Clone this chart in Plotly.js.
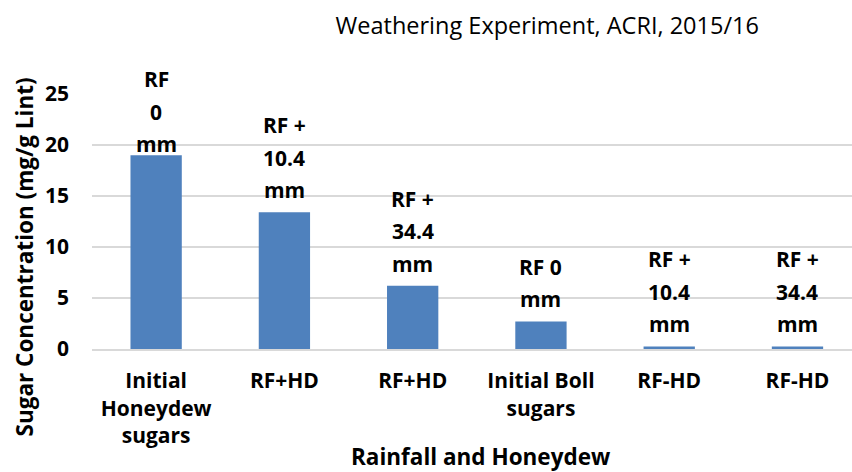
<!DOCTYPE html>
<html>
<head>
<meta charset="utf-8">
<script src="https://cdn.plot.ly/plotly-3.0.1.min.js"></script>
<style>html,body{margin:0;padding:0;background:#fff;}#chart{width:852px;height:472px;}</style>
</head>
<body>
<div id="chart"></div>
<script>
const categories = ["Initial<br>Honeydew<br>sugars", "RF+HD", "RF+HD", "Initial Boll<br>sugars", "RF-HD", "RF-HD"];
const sugarValues = [19.0, 13.4, 6.2, 2.7, 0.25, 0.25];
const labelLines = [["RF", "0", "mm"], ["RF +", "10.4", "mm"], ["RF +", "34.4", "mm"], ["RF 0", "mm"], ["RF +", "10.4", "mm"], ["RF +", "34.4", "mm"]];
const yTickVals = [0, 5, 10, 15, 20, 25];
const chartTitle = "Weathering Experiment, ACRI, 2015/16";
const xTitle = "Rainfall and Honeydew";
const yTitle = "Sugar Concentration (mg/g Lint)";

const FONT = "Open Sans, Lato, sans-serif";
const labelSize = 21;
const titleSize = 22.5;
const lineStep = 32.5;
const labelGap = 6;
const W = 852, H = 472;
const margin = {l: 92, r: 0, t: 94, b: 123, pad: 0};
const yRange = [0, 25];
const labelTopLimit = 95; // keep data-label stacks inside the chart area

const xIdx = categories.map((_, i) => i);
const plotH = H - margin.t - margin.b;
const valueToPx = v => margin.t + (yRange[1] - v) / (yRange[1] - yRange[0]) * plotH;

const annotations = [];
labelLines.forEach((lines, i) => {
  const n = lines.length;
  const topShift = labelGap + (n - 1) * lineStep;
  const overflow = Math.max(0, labelTopLimit - (valueToPx(sugarValues[i]) - topShift));
  lines.forEach((t, k) => {
    annotations.push({
      x: xIdx[i], y: sugarValues[i], xref: 'x', yref: 'y',
      text: '<b>' + t + '</b>', showarrow: false,
      xanchor: 'center', yanchor: 'bottom',
      yshift: labelGap + (n - 1 - k) * lineStep - overflow,
      font: {family: FONT, size: labelSize, color: '#000'}
    });
  });
});
annotations.push({
  xref: 'paper', yref: 'paper', x: -0.0888, y: 0.361,
  text: '<b>' + yTitle + '</b>', textangle: -90, showarrow: false,
  xanchor: 'center', yanchor: 'middle',
  font: {family: FONT, size: titleSize, color: '#000'}
});
annotations.push({
  xref: 'paper', yref: 'paper', x: 0.5118, y: -0.42,
  text: '<b>' + xTitle + '</b>', showarrow: false,
  xanchor: 'center', yanchor: 'middle',
  font: {family: FONT, size: titleSize, color: '#000'}
});

const data = [{
  type: 'bar', x: xIdx, y: sugarValues,
  marker: {color: '#4F81BD'},
  hoverinfo: 'y'
}];

const layout = {
  width: W, height: H,
  margin: margin,
  paper_bgcolor: '#fff', plot_bgcolor: '#fff',
  bargap: 0.6,
  showlegend: false,
  title: {
    text: chartTitle, xref: 'paper', x: 0.599, xanchor: 'center',
    yref: 'container', y: 0.945, yanchor: 'middle',
    font: {family: FONT, size: 23.5, color: '#000'}
  },
  xaxis: {
    range: [-0.5, 5.425], tickvals: xIdx, ticktext: categories.map(c => '<b>' + c.replace(/<br>/g, '</b><br><b>') + '</b>'),
    tickfont: {family: FONT, size: labelSize, color: '#000'},
    showgrid: false, zeroline: false, showline: true, linecolor: '#d9d9d9', linewidth: 2,
    ticks: '', ticklabelstandoff: 12, fixedrange: true
  },
  yaxis: {
    range: yRange, tickvals: yTickVals, ticktext: yTickVals.map(v => '<b>' + v + '</b>'),
    tickfont: {family: FONT, size: labelSize, color: '#000'},
    showgrid: true, gridcolor: '#d9d9d9', gridwidth: 2, zeroline: false,
    showline: false, ticks: '', ticklabelstandoff: 22, fixedrange: true
  },
  annotations: annotations
};

Plotly.newPlot('chart', data, layout, {displayModeBar: false, staticPlot: true});
</script>
</body>
</html>
